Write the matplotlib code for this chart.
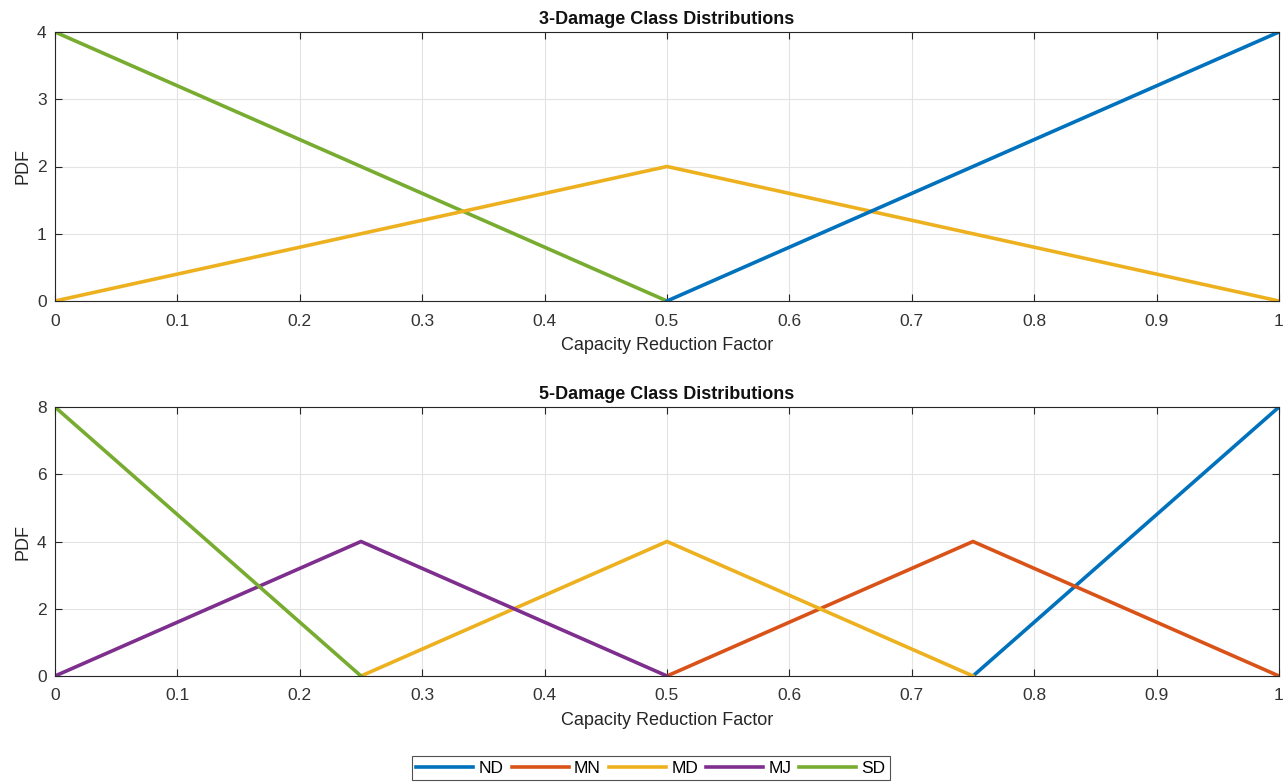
import matplotlib.pyplot as plt
import numpy as np

plt.rcParams['font.family'] = ['Liberation Sans', 'DejaVu Sans']

# 3-damage class triangular pdfs
x3_nd = [0.5, 1.0]
y3_nd = [0, 4]
x3_md = [0.0, 0.5, 1.0]
y3_md = [0, 2, 0]
x3_sd = [0.0, 0.5]
y3_sd = [4, 0]

# 5-damage class triangular pdfs
x5_nd = [0.75, 1.0]
y5_nd = [0, 8]
x5_mn = [0.5, 0.75, 1.0]
y5_mn = [0, 4, 0]
x5_md = [0.25, 0.5, 0.75]
y5_md = [0, 4, 0]
x5_mj = [0.0, 0.25, 0.5]
y5_mj = [0, 4, 0]
x5_sd = [0.0, 0.25]
y5_sd = [8, 0]

labels = ['ND', 'MN', 'MD', 'MJ', 'SD']
colors = ['#0072BD', '#D95319', '#EDB120', '#7E2F8E', '#77AC30']
xticks = np.round(np.arange(0, 1.01, 0.1), 1)
xticklabels = ['0'] + [f'{v:.1f}' for v in xticks[1:-1]] + ['1']

fig = plt.figure(figsize=(12.83, 7.82), dpi=100)
ax1 = fig.add_axes([55 / 1283, 1 - 301 / 782, 1224 / 1283, 269 / 782])
ax2 = fig.add_axes([55 / 1283, 1 - 676 / 782, 1224 / 1283, 269 / 782])


def style(ax, ymax, yticks, title):
    ax.set_xlim(0, 1)
    ax.set_ylim(0, ymax)
    ax.set_xticks(xticks)
    ax.set_xticklabels(xticklabels)
    ax.set_yticks(yticks)
    ax.grid(True, color='#e3e3e3', linewidth=0.8)
    ax.set_axisbelow(True)
    ax.tick_params(direction='in', top=True, right=True, length=5,
                   labelsize=12.5, colors='#262626', labelcolor='#333333', width=0.8)
    ax.tick_params(axis='x', pad=9)
    ax.tick_params(axis='y', pad=6)
    for s in ax.spines.values():
        s.set_color('#262626')
        s.set_linewidth(0.8)
    ax.set_xlabel('Capacity Reduction Factor', fontsize=13, color='#262626', labelpad=6)
    ax.set_ylabel('PDF', fontsize=13, color='#262626', labelpad=4)
    ax.set_title(title, fontsize=13, fontweight='bold', color='#111111', pad=6)


lw = 2.6
ax1.plot(x3_sd, y3_sd, color=colors[4], lw=lw)
ax1.plot(x3_md, y3_md, color=colors[2], lw=lw)
ax1.plot(x3_nd, y3_nd, color=colors[0], lw=lw)
style(ax1, 4, [0, 1, 2, 3, 4], '3-Damage Class Distributions')

handles = []
handles += ax2.plot(x5_nd, y5_nd, color=colors[0], lw=lw, label=labels[0])
handles += ax2.plot(x5_mn, y5_mn, color=colors[1], lw=lw, label=labels[1])
handles += ax2.plot(x5_md, y5_md, color=colors[2], lw=lw, label=labels[2])
handles += ax2.plot(x5_mj, y5_mj, color=colors[3], lw=lw, label=labels[3])
handles += ax2.plot(x5_sd, y5_sd, color=colors[4], lw=lw, label=labels[4])
style(ax2, 8, [0, 2, 4, 6, 8], '5-Damage Class Distributions')

leg = fig.legend(handles=handles, labels=labels, loc='center',
                 bbox_to_anchor=(651 / 1283, 1 - 768 / 782), ncol=5,
                 fontsize=12.5, frameon=True, fancybox=False, handlelength=3.3,
                 columnspacing=0.45, handletextpad=0.3, borderpad=0.25)
leg.get_frame().set_edgecolor('#262626')
leg.get_frame().set_linewidth(0.8)

fig.savefig('out.png', dpi=100)
